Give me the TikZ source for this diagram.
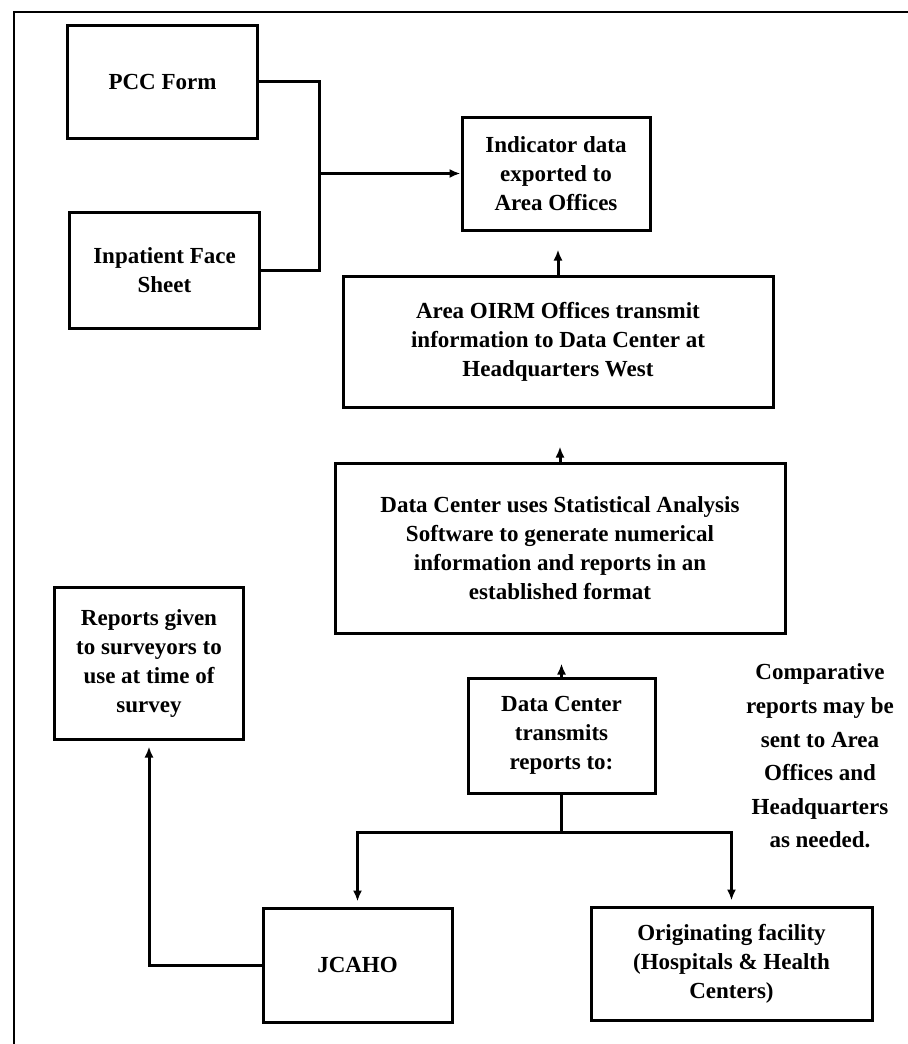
\documentclass[tikz,border=0pt]{standalone}
\usepackage{fontspec}
\setmainfont{Liberation Serif}
\usetikzlibrary{arrows.meta}
\begin{document}
\begin{tikzpicture}[x=1bp,y=-1bp,
  box/.style={draw, line width=3bp, rectangle, align=center, inner sep=0pt,
    font=\fontsize{23bp}{29bp}\selectfont\bfseries},
  conn/.style={line width=3bp},
  arr/.style={conn, -{Latex[length=11bp,width=9bp]}},
  note/.style={align=center, inner sep=0pt, font=\fontsize{23bp}{33.6bp}\selectfont\bfseries}]
\useasboundingbox (0,0) rectangle (908,1044);
\draw[line width=1.8bp] (14,1044) -- (14,12) -- (908,12);

\node[box, minimum width=189bp, minimum height=113bp] (pcc) at (162.5,81.5) {PCC Form};
\node[box, minimum width=189bp, minimum height=116bp] (inp) at (164.5,270) {Inpatient Face\\Sheet};
\node[box, minimum width=188bp, minimum height=113bp] (ind) at (556,173.5) {Indicator data\\exported to\\Area Offices};
\node[box, minimum width=430bp, minimum height=131bp] (area) at (558,341.5) {Area OIRM Offices transmit\\information to Data Center at\\Headquarters West};
\node[box, minimum width=450bp, minimum height=170bp] (dcu) at (560,548) {Data Center uses Statistical Analysis\\Software to generate numerical\\information and reports in an\\established format};
\node[box, minimum width=187bp, minimum height=115bp] (dct) at (561.5,735.5) {Data Center\\transmits\\reports to:};
\node[box, minimum width=188bp, minimum height=152bp] (rep) at (149,663) {Reports given\\to surveyors to\\use at time of\\survey};
\node[box, minimum width=189bp, minimum height=114bp] (jc) at (357.5,965) {JCAHO};
\node[box, minimum width=281bp, minimum height=113bp] (orig) at (731.5,963.5) {Originating facility\\(Hospitals \& Health\\Centers)};
\node[note] (cmp) at (820,756) {Comparative\\reports may be\\sent to Area\\Offices and\\Headquarters\\as needed.};

\coordinate (j1) at (319,173.5);
\coordinate (bus) at (561.5,832);
\draw[conn] (pcc.east) -| (j1);
\draw[conn] (inp.east) -| (j1);
\draw[arr] (j1) -- (ind.west);
\draw[arr, shorten >=18bp] (area.north) -- (area.north |- ind.south);
\draw[arr, shorten >=38bp] (dcu.north) -- (dcu.north |- area.south);
\draw[arr, shorten >=29bp] (dct.north) -- (dct.north |- dcu.south);
\draw[conn] (dct.south) -- (bus);
\draw[arr, shorten >=5bp] (bus) -| (jc.north);
\draw[arr, shorten >=5bp] (bus) -| (orig.north);
\draw[arr, shorten >=6bp] (jc.west) -| (rep.south);
\end{tikzpicture}
\end{document}
